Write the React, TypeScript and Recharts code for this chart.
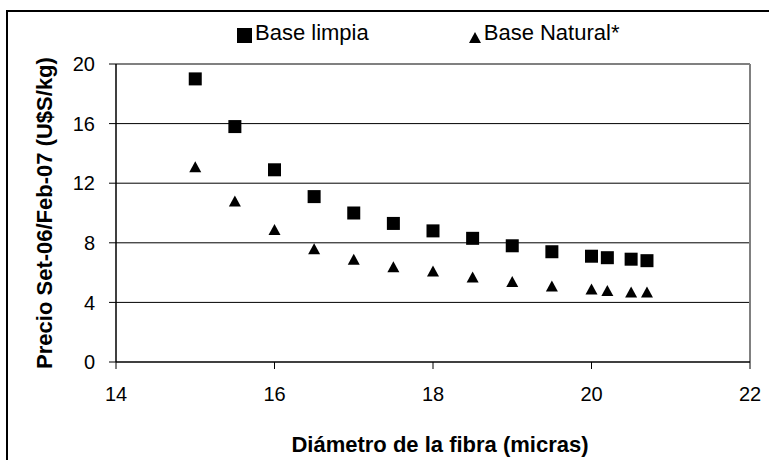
import React from "react";
import {
  ScatterChart,
  Scatter,
  XAxis,
  YAxis,
  CartesianGrid,
  ReferenceLine,
  Legend,
  Label,
} from "recharts";

// fibre diameter (micras) and price (U$S/kg)
const diameters = [15, 15.5, 16, 16.5, 17, 17.5, 18, 18.5, 19, 19.5, 20, 20.2, 20.5, 20.7];
const baseLimpia = [19.0, 15.8, 12.9, 11.1, 10.0, 9.3, 8.8, 8.3, 7.8, 7.4, 7.1, 7.0, 6.9, 6.8];
const baseNatural = [13.1, 10.8, 8.9, 7.6, 6.9, 6.4, 6.1, 5.7, 5.4, 5.1, 4.9, 4.8, 4.7, 4.7];

const xTicks = [14, 16, 18, 20, 22];
const yTicks = [0, 4, 8, 12, 16, 20];

const FONT = "'Liberation Sans', Arial, sans-serif";

const limpiaData = diameters.map((d, i) => ({ x: d, y: baseLimpia[i] }));
const naturalData = diameters.map((d, i) => ({ x: d, y: baseNatural[i] }));

// Square marker
const SquareMark = (props: any) => {
  const { cx, cy } = props;
  return <rect x={cx - 6.5} y={cy - 6.5} width={13} height={13} fill="#000" />;
};

// Triangle marker, centred on its box like Excel does
const TriangleMark = (props: any) => {
  const { cx, cy } = props;
  return (
    <polygon
      points={`${cx},${cy - 5.5} ${cx + 6},${cy + 5.5} ${cx - 6},${cy + 5.5}`}
      fill="#000"
    />
  );
};

const renderLegend = () => (
  <div
    style={{
      display: "flex",
      alignItems: "center",
      paddingLeft: 237,
      fontFamily: FONT,
      fontSize: 22,
      lineHeight: "26px",
      color: "#000",
    }}
  >
    <svg width={15} height={15} style={{ position: "relative", top: 2 }}>
      <rect width={15} height={15} fill="#000" />
    </svg>
    <span style={{ marginLeft: 3 }}>Base limpia</span>
    <svg width={12} height={11} style={{ marginLeft: 100, position: "relative", top: 4 }}>
      <polygon points="6,0 12,11 0,11" fill="#000" />
    </svg>
    <span style={{ marginLeft: 3 }}>Base Natural*</span>
  </div>
);

export default function App() {
  return (
    <div
      style={{
        position: "absolute",
        left: 0,
        top: 0,
        width: 769,
        height: 460,
        overflow: "hidden",
        background: "#fff",
      }}
    >
      {/* outer frame, runs off the right and bottom edges */}
      <div
        style={{
          position: "absolute",
          left: 6,
          top: 10,
          width: 800,
          height: 500,
          border: "2px solid #000",
        }}
      />
      <div style={{ position: "absolute", left: 0, top: 0 }}>
        <ScatterChart width={769} height={460} margin={{ top: 64, right: 19, left: 0, bottom: 0 }}>
          <CartesianGrid
            vertical={false}
            horizontalValues={[4, 8, 12, 16]}
            stroke="#000"
            strokeWidth={1}
          />
          <XAxis
            type="number"
            dataKey="x"
            domain={[14, 22]}
            ticks={xTicks}
            height={98}
            tickSize={7}
            tickMargin={18}
            stroke="#000"
            axisLine={{ stroke: "#000", strokeWidth: 1.5 }}
            tickLine={{ stroke: "#000" }}
            tick={{ fill: "#000", fontSize: 20, fontFamily: FONT }}
          >
            <Label
              value="Diámetro de la fibra (micras)"
              position="insideBottom"
              offset={8}
              dx={7}
              style={{ fontSize: 22, fontWeight: "bold", fontFamily: FONT, fill: "#000" }}
            />
          </XAxis>
          <YAxis
            type="number"
            dataKey="y"
            domain={[0, 20]}
            ticks={yTicks}
            width={116}
            tickSize={7}
            tickMargin={14}
            axisLine={{ stroke: "#000", strokeWidth: 1.5 }}
            tickLine={{ stroke: "#000" }}
            tick={{ fill: "#000", fontSize: 20, fontFamily: FONT }}
          >
            <Label
              value="Precio Set-06/Feb-07 (U$S/kg)"
              angle={-90}
              position="insideLeft"
              offset={44}
              style={{
                textAnchor: "middle",
                fontSize: 22,
                fontWeight: "bold",
                fontFamily: FONT,
                fill: "#000",
              }}
            />
          </YAxis>
          <ReferenceLine y={20} stroke="#808080" strokeWidth={2} />
          <ReferenceLine x={22} stroke="#808080" strokeWidth={2} />
          <Legend
            layout="horizontal"
            verticalAlign="middle"
            align="center"
            wrapperStyle={{ top: 20, left: 0, width: 769 }}
            content={renderLegend}
          />
          <Scatter
            name="Base limpia"
            data={limpiaData}
            shape={SquareMark}
            fill="#000"
            isAnimationActive={false}
          />
          <Scatter
            name="Base Natural*"
            data={naturalData}
            shape={TriangleMark}
            fill="#000"
            isAnimationActive={false}
          />
        </ScatterChart>
      </div>
    </div>
  );
}
